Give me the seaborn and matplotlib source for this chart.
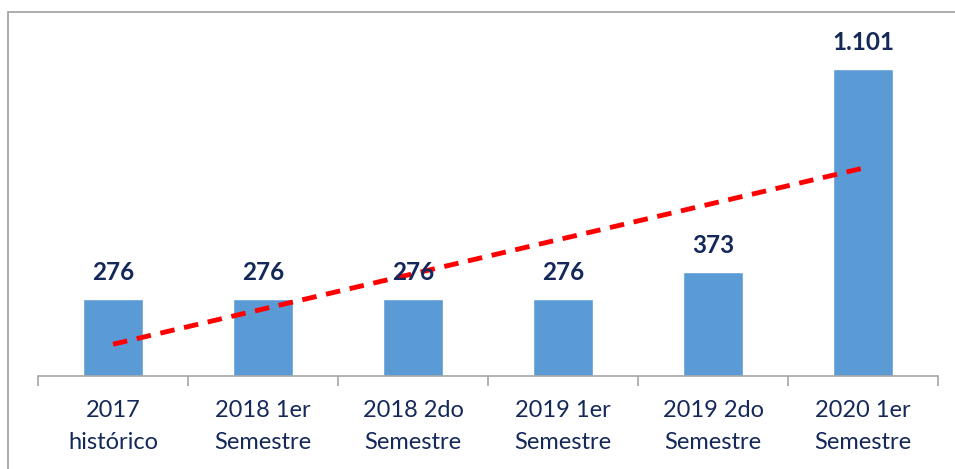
import numpy as np
import pandas as pd
import seaborn as sns
import matplotlib.pyplot as plt
from matplotlib.patches import Rectangle

# data
periods = ["2017\nhistórico", "2018 1er\nSemestre", "2018 2do\nSemestre",
           "2019 1er\nSemestre", "2019 2do\nSemestre", "2020 1er\nSemestre"]
values = [276, 276, 276, 276, 373, 1101]
value_labels = ["276", "276", "276", "276", "373", "1.101"]

bar_color = "#5B9BD5"
text_color = "#14285A"

sns.set_theme(style="white")
plt.rcParams['font.family'] = ['Lato', 'DejaVu Sans']

df = pd.DataFrame({"period": periods, "value": values})

fig = plt.figure(figsize=(9.55, 4.69), dpi=100)
ax = fig.add_axes([0.0398, 0.198, 0.9424, 0.744])

sns.barplot(data=df, x="period", y="value", color=bar_color, width=0.4,
            saturation=1, ax=ax)

# linear trend line over the bars
sns.regplot(x=np.arange(len(values)), y=df["value"], scatter=False, ci=None,
            truncate=True, ax=ax,
            line_kws={"color": "#FF0000", "ls": (0, (3, 2)), "lw": 3.5})

for i, (v, lab) in enumerate(zip(values, value_labels)):
    ax.annotate(lab, (i, v), xytext=(0, 11), textcoords="offset points",
                ha="center", va="bottom", fontsize=17.5, fontweight="bold",
                color=text_color)

ax.set_xlim(-0.5, 5.5)
ax.set_ylim(0, 1250)
ax.set_xlabel("")
ax.set_ylabel("")
ax.set_yticks([])

for s in ["top", "left", "right"]:
    ax.spines[s].set_visible(False)
ax.spines["bottom"].set_color("#A6A6A6")
ax.spines["bottom"].set_linewidth(1.2)

# category boundaries as small ticks, labels without ticks
ax.set_xticks(np.arange(-0.5, 6, 1), minor=True)
ax.tick_params(axis="x", which="minor", length=7, width=1.2, color="#A6A6A6",
               direction="out", bottom=True)
ax.tick_params(axis="x", which="major", length=0, pad=17, labelsize=17,
               labelcolor=text_color)
for t in ax.get_xticklabels():
    t.set_linespacing(1.65)

# chart area border (cut off on the right and bottom)
fig.patches.append(Rectangle((8 / 955, -0.1), 1.0, 1.1 - 12 / 469,
                             transform=fig.transFigure, fill=False,
                             edgecolor="#A0A0A0", lw=1.2))

fig.savefig("out.png", dpi=100)
